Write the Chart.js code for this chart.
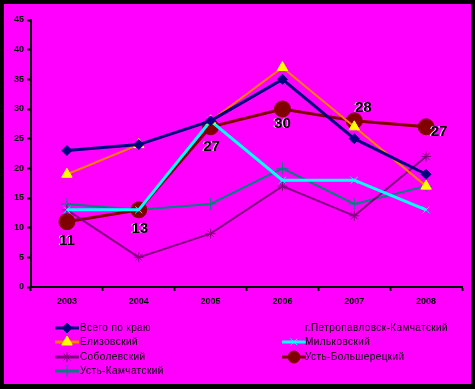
<!DOCTYPE html>
<html><head><meta charset="utf-8">
<script src="https://cdn.jsdelivr.net/npm/chart.js@4"></script>
<style>
html,body{margin:0;padding:0;background:#000;}
#wrap{position:absolute;left:4px;top:4px;width:467px;height:380px;}
</style></head>
<body><div id="wrap"><canvas id="c" width="467" height="380"></canvas></div>
<script>
const years = ["2003","2004","2005","2006","2007","2008"];
const yTicks = [0,5,10,15,20,25,30,35,40,45];
const vsegoPoKrayu = [23,24,28,35,25,19];
const petropavlovsk = [null,null,null,null,null,null];
const elizovsky = [19,24,28,37,27,17];
const milkovsky = [13,13,28,18,18,13];
const sobolevsky = [13,5,9,17,12,22];
const ustBolsheretsky = [11,13,27,30,28,27];
const ustKamchatsky = [14,13,14,20,14,17];
const seriesNames = ["Всего по краю","г.Петропавловск-Камчатский","Елизовский","Мильковский","Соболевский","Усть-Большерецкий","Усть-Камчатский"];

const ds = [
 {label:seriesNames[0],data:vsegoPoKrayu,borderColor:"#000080",backgroundColor:"#000080",borderWidth:3,pointStyle:"rectRot",pointRadius:5,pointBorderWidth:1},
 {label:seriesNames[1],data:petropavlovsk,borderColor:"rgba(0,0,0,0)",backgroundColor:"rgba(0,0,0,0)",borderWidth:0,pointStyle:false,pointRadius:0,noLegendMark:true},
 {label:seriesNames[2],data:elizovsky,borderColor:"#FF8000",backgroundColor:"#FFFF00",pointBorderColor:"#FFFF00",borderWidth:2,pointStyle:"triangle",pointRadius:6,pointBorderWidth:1},
 {label:seriesNames[3],data:milkovsky,borderColor:"#00FFFF",backgroundColor:"#00FFFF",borderWidth:3,pointStyle:"crossRot",pointRadius:5,pointBorderWidth:1},
 {label:seriesNames[4],data:sobolevsky,borderColor:"#800080",backgroundColor:"#800080",borderWidth:2,pointStyle:"star",pointRadius:5,pointBorderWidth:1},
 {label:seriesNames[5],data:ustBolsheretsky,borderColor:"#800000",backgroundColor:"#800000",borderWidth:3,pointStyle:"circle",pointRadius:8,pointBorderWidth:1,showLabels:true},
 {label:seriesNames[6],data:ustKamchatsky,borderColor:"#008080",backgroundColor:"#008080",borderWidth:2,pointStyle:"cross",pointRadius:6,pointBorderWidth:1}
];
ds.forEach(d=>{d.tension=0;d.fill=false;d.pointHoverRadius=d.pointRadius;});

const labelPos = [[0,19],[1,19],[1,20],[0,15],[9,-13],[13,5]];

const bgPlugin = {id:"bg",beforeDraw(c){const x=c.ctx;x.save();x.fillStyle="#FF00FF";x.fillRect(0,0,c.width,c.height);x.restore();}};
const extras = {id:"extras",afterDatasetsDraw(c){
 const x=c.ctx;
 c.data.datasets.forEach((d,i)=>{
  if(!d.showLabels)return;
  const meta=c.getDatasetMeta(i);
  x.save();x.font="bold 15px Arial";x.textAlign="center";x.textBaseline="middle";
  meta.data.forEach((p,j)=>{
   const o=labelPos[j];
   x.fillStyle="#fff";x.fillText(String(d.data[j]),p.x+o[0]-1,p.y+o[1]);
   x.fillStyle="#000";x.fillText(String(d.data[j]),p.x+o[0],p.y+o[1]);
  });
  x.restore();
 });
 const cols=[{lx:51,tx:76},{lx:278,tx:301}];
 const rows=[324,338,353,367];
 x.save();x.font="10px Arial";x.textBaseline="middle";x.fillStyle="#000";
 c.data.datasets.forEach((d,i)=>{
  const col=cols[i%2],y=rows[Math.floor(i/2)];
  if(!d.noLegendMark){
   x.strokeStyle=d.borderColor;x.lineWidth=3;
   x.beginPath();x.moveTo(col.lx,y);x.lineTo(col.lx+24,y);x.stroke();
   x.fillStyle=d.backgroundColor;x.strokeStyle=d.pointBorderColor||d.borderColor;x.lineWidth=1;
   Chart.helpers.drawPoint(x,{pointStyle:d.pointStyle,radius:Math.min(d.pointRadius,6),borderWidth:1},col.lx+12,y);
  }
  x.fillStyle="#000";
  if("letterSpacing" in x) x.letterSpacing="0.4px";
  x.fillText(d.label,col.tx,y);
 });
 x.restore();
}};

new Chart(document.getElementById("c"),{
 type:"line",
 data:{labels:years,datasets:ds},
 options:{
  responsive:false,animation:false,
  layout:{padding:{left:0,top:16,right:8,bottom:0}},
  plugins:{legend:{display:false},tooltip:{enabled:false}},
  scales:{
   x:{offset:true,
      grid:{display:true,drawOnChartArea:false,drawTicks:true,tickLength:4,tickColor:"#000",tickWidth:2,offset:true},
      border:{color:"#000",width:2},
      ticks:{color:"#000",font:{family:"Arial",size:9,weight:"bold"},padding:5,maxRotation:0},
      afterFit(s){s.height=97;}},
   y:{min:0,max:45,
      afterBuildTicks(s){s.ticks=yTicks.map(v=>({value:v}));},
      grid:{display:true,drawOnChartArea:false,drawTicks:true,tickLength:4,tickColor:"#000",tickWidth:2},
      border:{color:"#000",width:2},
      ticks:{color:"#000",font:{family:"Arial",size:9,weight:"bold"},padding:3},
      afterFit(s){s.width=27;}}
  }
 },
 plugins:[bgPlugin,extras]
});
</script></body></html>
